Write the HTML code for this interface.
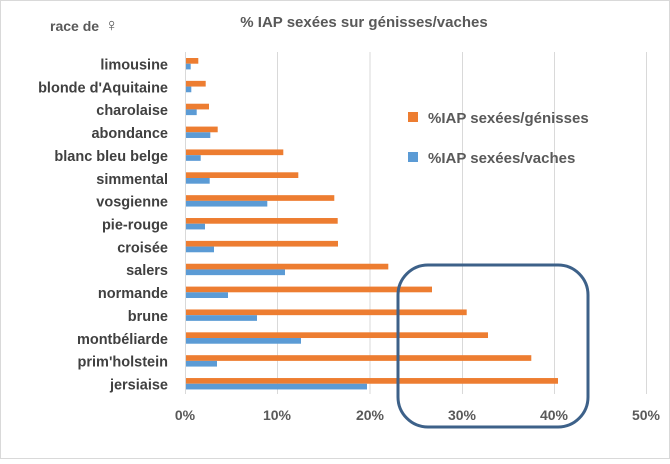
<!DOCTYPE html><html><head><style>body{margin:0;background:#fff}</style></head><body>
<svg width="670" height="459" xmlns="http://www.w3.org/2000/svg" font-family="Liberation Sans, sans-serif">
<rect x="0.5" y="0.5" width="669" height="458" fill="#fff" stroke="#d9d9d9"/>
<text x="50" y="31" font-size="14" font-weight="bold" fill="#595959">race de <tspan font-size="18" dx="2">♀</tspan></text>
<text x="364" y="27" font-size="15" font-weight="bold" fill="#595959" text-anchor="middle">% IAP sexées sur génisses/vaches</text>
<g stroke="#d9d9d9" stroke-width="1">
<line x1="277.5" y1="52" x2="277.5" y2="394"/><line x1="370" y1="52" x2="370" y2="394"/><line x1="462.5" y1="52" x2="462.5" y2="394"/><line x1="554.5" y1="52" x2="554.5" y2="394"/><line x1="646.5" y1="52" x2="646.5" y2="394"/>
<line x1="185.5" y1="52" x2="185.5" y2="394"/>
</g>
<g font-size="14" font-weight="bold" fill="#595959" text-anchor="middle">
<text x="185" y="420">0%</text><text x="277" y="420">10%</text><text x="370" y="420">20%</text><text x="462" y="420">30%</text><text x="554" y="420">40%</text><text x="646" y="420">50%</text>
</g>
<g id="bars"></g>
<g font-size="14.5" font-weight="bold" fill="#404040" text-anchor="end" id="labels"></g>
<rect x="398" y="265" width="190" height="162" rx="30" fill="none" stroke="#3d6189" stroke-width="3"/>
<rect x="408" y="112" width="10" height="10" fill="#ed7d31"/>
<text x="428" y="123" font-size="15" font-weight="bold" fill="#595959">%IAP sexées/génisses</text>
<rect x="408" y="152" width="10" height="10" fill="#5b9bd5"/>
<text x="428" y="163" font-size="15" font-weight="bold" fill="#595959">%IAP sexées/vaches</text>
<script>
var d=[["limousine",198.3,190.7],["blonde d'Aquitaine",205.7,191.3],["charolaise",209,196.7],["abondance",217.7,210.3],["blanc bleu belge",283.3,200.7],["simmental",298.3,209.7],["vosgienne",334.3,267.3],["pie-rouge",337.7,205],["croisée",338,214],["salers",388.3,285],["normande",432,228],["brune",466.7,257],["montbéliarde",488,301],["prim'holstein",531.3,217],["jersiaise",558,367]];
var b=document.getElementById('bars'),l=document.getElementById('labels'),ns='http://www.w3.org/2000/svg';
d.forEach(function(r,i){var y=58+i*22.86;
var o=document.createElementNS(ns,'rect');o.setAttribute('x',186);o.setAttribute('y',y);o.setAttribute('width',r[1]-186);o.setAttribute('height',5.7);o.setAttribute('fill','#ed7d31');b.appendChild(o);
var c=document.createElementNS(ns,'rect');c.setAttribute('x',186);c.setAttribute('y',y+5.7);c.setAttribute('width',r[2]-186);c.setAttribute('height',5.7);c.setAttribute('fill','#5b9bd5');b.appendChild(c);
var t=document.createElementNS(ns,'text');t.setAttribute('x',168);t.setAttribute('y',y+11.5);t.textContent=r[0];l.appendChild(t);});
</script>
</svg></body></html>
